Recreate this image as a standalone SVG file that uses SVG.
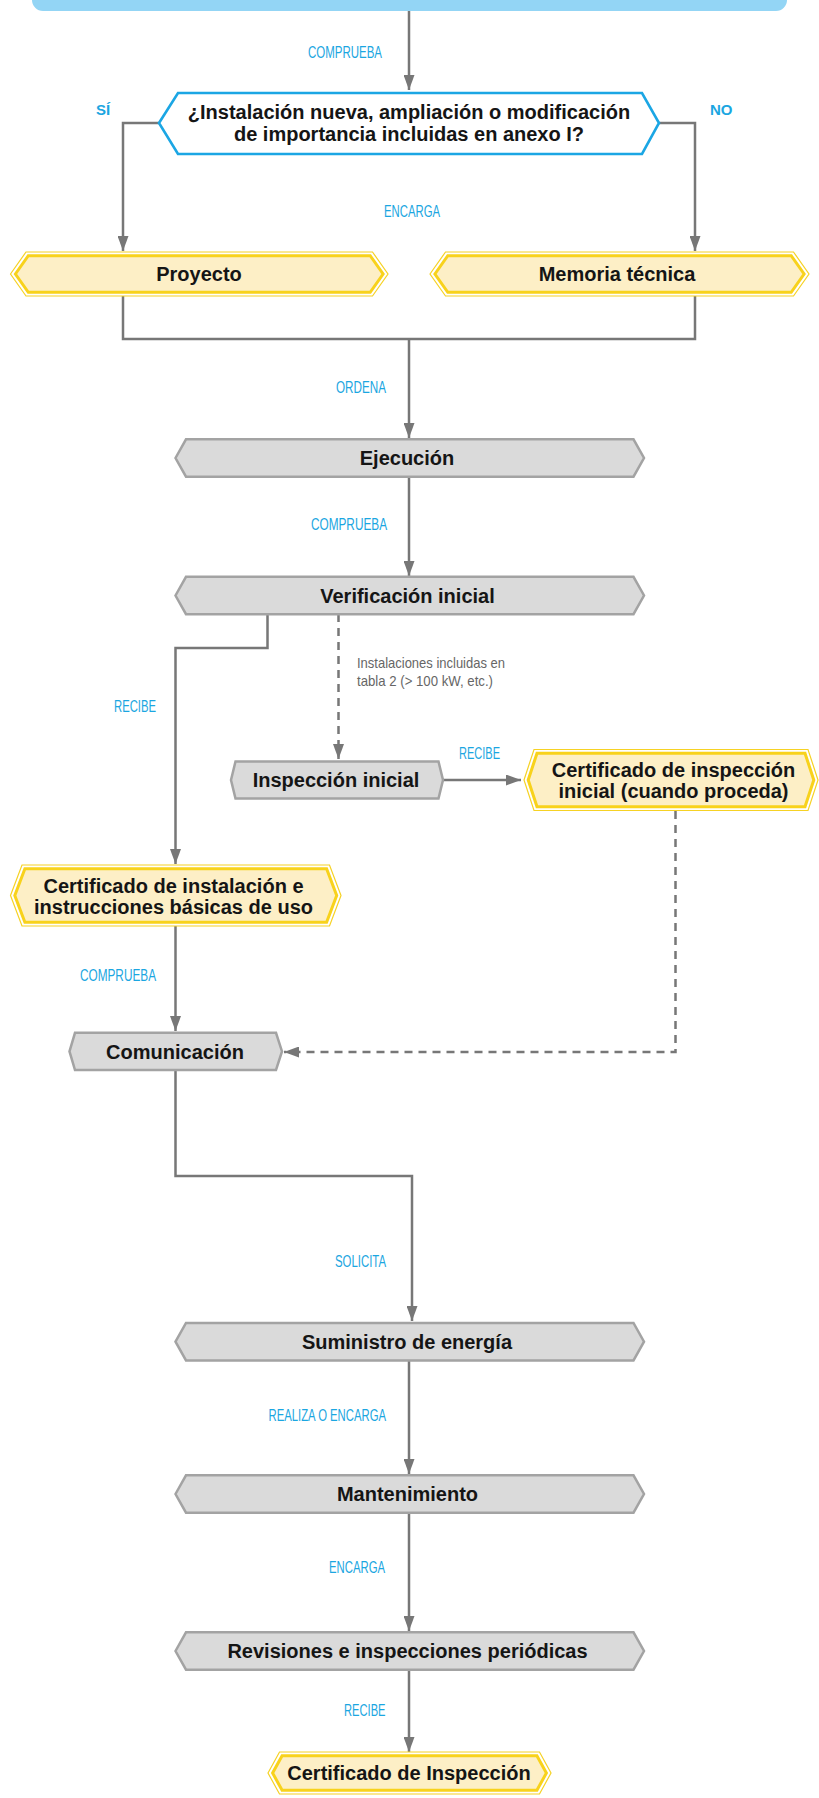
<svg xmlns="http://www.w3.org/2000/svg" width="819" height="1798" viewBox="0 0 819 1798">
<style>
.bg{fill:#ffffff}
.gray{fill:#dadada;stroke:#a3a3a3;stroke-width:2.5;stroke-linejoin:miter}
.yo{fill:none;stroke:#f6d224;stroke-width:1.2}
.yi{fill:#fdefc6;stroke:#f8d21c;stroke-width:3}
.dec{fill:#ffffff;stroke:#1ba6e4;stroke-width:2.6}
.t{font-family:"Liberation Sans",Arial,sans-serif;font-weight:bold;font-size:20px;fill:#151515;text-anchor:middle}
.lb{font-family:"Liberation Sans Narrow","Liberation Sans",Arial,sans-serif;font-size:16px;fill:#1ba6e1}
.yn{font-family:"Liberation Sans",Arial,sans-serif;font-weight:bold;font-size:15px;fill:#1ba6e1}
.note{font-family:"Liberation Sans Narrow","Liberation Sans",Arial,sans-serif;font-size:15px;fill:#666666}
.c{fill:none;stroke:#777777;stroke-width:2.5}
.d{fill:none;stroke:#777777;stroke-width:2.5;stroke-dasharray:8 6}
</style>
<defs>
<marker id="ah" viewBox="0 0 15 11" refX="15" refY="5.5" markerWidth="15" markerHeight="11" markerUnits="userSpaceOnUse" orient="auto">
<path d="M0,0 L15,5.5 L0,11 z" fill="#777777"/>
</marker>
</defs>
<rect class="bg" x="0" y="0" width="819" height="1798"/>

<g id="connectors">
<path class="c" d="M409,11 V90" marker-end="url(#ah)"/>
<path class="c" d="M159,123 H123 V251" marker-end="url(#ah)"/>
<path class="c" d="M659,123 H695 V251" marker-end="url(#ah)"/>
<path class="c" d="M123,296 V339 H695 V296"/>
<path class="c" d="M409,339 V438" marker-end="url(#ah)"/>
<path class="c" d="M409,477 V576" marker-end="url(#ah)"/>
<path class="c" d="M267.5,614 V648 H175.5 V864" marker-end="url(#ah)"/>
<path class="d" d="M338.5,614 V759" marker-end="url(#ah)"/>
<path class="c" d="M443,780 H521" marker-end="url(#ah)"/>
<path class="c" d="M175.5,926 V1031" marker-end="url(#ah)"/>
<path class="d" d="M675.5,811 V1052 H284" marker-end="url(#ah)"/>
<path class="c" d="M175.5,1070 V1176 H412 V1321" marker-end="url(#ah)"/>
<path class="c" d="M409,1361 V1474" marker-end="url(#ah)"/>
<path class="c" d="M409,1513 V1631" marker-end="url(#ah)"/>
<path class="c" d="M409,1670 V1752" marker-end="url(#ah)"/>
<text class="lb" x="308" y="57.5" textLength="74" lengthAdjust="spacingAndGlyphs">COMPRUEBA</text>
<text class="yn" x="96" y="115">SÍ</text>
<text class="yn" x="710" y="115">NO</text>
<text class="lb" x="384" y="216.5" textLength="56" lengthAdjust="spacingAndGlyphs">ENCARGA</text>
<text class="lb" x="336" y="392.5" textLength="50" lengthAdjust="spacingAndGlyphs">ORDENA</text>
<text class="lb" x="311" y="529.5" textLength="76" lengthAdjust="spacingAndGlyphs">COMPRUEBA</text>
<text class="lb" x="114" y="711.5" textLength="42" lengthAdjust="spacingAndGlyphs">RECIBE</text>
<text class="note" x="357" y="668" textLength="148" lengthAdjust="spacingAndGlyphs">Instalaciones incluidas en</text>
<text class="note" x="357" y="686" textLength="136" lengthAdjust="spacingAndGlyphs">tabla 2 (&gt; 100 kW, etc.)</text>
<text class="lb" x="459" y="758.5" textLength="41" lengthAdjust="spacingAndGlyphs">RECIBE</text>
<text class="lb" x="80" y="981" textLength="76" lengthAdjust="spacingAndGlyphs">COMPRUEBA</text>
<text class="lb" x="335" y="1267" textLength="51" lengthAdjust="spacingAndGlyphs">SOLICITA</text>
<text class="lb" x="268.5" y="1420.5" textLength="117.5" lengthAdjust="spacingAndGlyphs">REALIZA O ENCARGA</text>
<text class="lb" x="329" y="1572.5" textLength="56" lengthAdjust="spacingAndGlyphs">ENCARGA</text>
<text class="lb" x="344" y="1715.5" textLength="41.5" lengthAdjust="spacingAndGlyphs">RECIBE</text>
</g>

<g id="inicio">
<rect x="32" y="-30" width="755" height="41" rx="11" fill="#93d5f5"/>
</g>

<g id="decision">
<polygon class="dec" points="159,123 178,93 642,93 659,123 642,154 178,154"/>
<text class="t" x="409" y="119">¿Instalación nueva, ampliación o modificación</text>
<text class="t" x="409" y="140.5">de importancia incluidas en anexo I?</text>
</g>

<g id="proyecto">
<polygon class="yo" points="10.5,274 26,252 372.5,252 388,274 372.5,296 26,296"/>
<polygon class="yi" points="15.4,274 28.3,255.7 370.2,255.7 383.1,274 370.2,292.3 28.3,292.3"/>
<text class="t" x="199" y="281">Proyecto</text>
</g>

<g id="memoria">
<polygon class="yo" points="430,274 445.5,252 793.5,252 809,274 793.5,296 445.5,296"/>
<polygon class="yi" points="434.9,274 447.8,255.7 791.2,255.7 804.1,274 791.2,292.3 447.8,292.3"/>
<text class="t" x="617" y="281">Memoria técnica</text>
</g>

<g id="ejecucion">
<polygon class="gray" points="175.5,458 186,439.3 633.5,439.3 644,458 633.5,476.7 186,476.7"/>
<text class="t" x="407" y="465">Ejecución</text>
</g>

<g id="verificacion">
<polygon class="gray" points="175.5,595.5 186,576.8 633.5,576.8 644,595.5 633.5,614.2 186,614.2"/>
<text class="t" x="407.5" y="602.5">Verificación inicial</text>
</g>

<g id="inspeccion">
<polygon class="gray" points="231,780 235.5,761.5 438.5,761.5 443,780 438.5,798.5 235.5,798.5"/>
<text class="t" x="336" y="787">Inspección inicial</text>
</g>

<g id="cert-inspeccion-inicial">
<polygon class="yo" points="524,780 534,749.5 808,749.5 818,780 808,810.5 534,810.5"/>
<polygon class="yi" points="528.2,780 537,753.2 805,753.2 813.8,780 805,806.8 537,806.8"/>
<text class="t" x="673.5" y="777">Certificado de inspección</text>
<text class="t" x="673.5" y="797.5">inicial (cuando proceda)</text>
</g>

<g id="cert-instalacion">
<polygon class="yo" points="10.5,895.5 22,865 329.5,865 341,895.5 329.5,926 22,926"/>
<polygon class="yi" points="14.8,895.5 24.9,868.7 326.6,868.7 336.7,895.5 326.6,922.3 24.9,922.3"/>
<text class="t" x="173.5" y="893">Certificado de instalación e</text>
<text class="t" x="173.5" y="914">instrucciones básicas de uso</text>
</g>

<g id="comunicacion">
<polygon class="gray" points="69.5,1051.4 75,1032.8 276,1032.8 282,1051.4 276,1070 75,1070"/>
<text class="t" x="175" y="1058.5">Comunicación</text>
</g>

<g id="suministro">
<polygon class="gray" points="175.5,1341.7 186,1323 633.5,1323 644,1341.7 633.5,1360.4 186,1360.4"/>
<text class="t" x="407" y="1348.5">Suministro de energía</text>
</g>

<g id="mantenimiento">
<polygon class="gray" points="175.5,1494 186,1475.3 633.5,1475.3 644,1494 633.5,1512.7 186,1512.7"/>
<text class="t" x="407.5" y="1501">Mantenimiento</text>
</g>

<g id="revisiones">
<polygon class="gray" points="175.5,1651 186,1632.3 633.5,1632.3 644,1651 633.5,1669.7 186,1669.7"/>
<text class="t" x="407.5" y="1658">Revisiones e inspecciones periódicas</text>
</g>

<g id="cert-inspeccion">
<polygon class="yo" points="268,1773 279.5,1752 539.5,1752 551,1773 539.5,1794 279.5,1794"/>
<polygon class="yi" points="272.6,1773 282.1,1755.7 536.9,1755.7 546.4,1773 536.9,1790.3 282.1,1790.3"/>
<text class="t" x="409" y="1780">Certificado de Inspección</text>
</g>
</svg>
